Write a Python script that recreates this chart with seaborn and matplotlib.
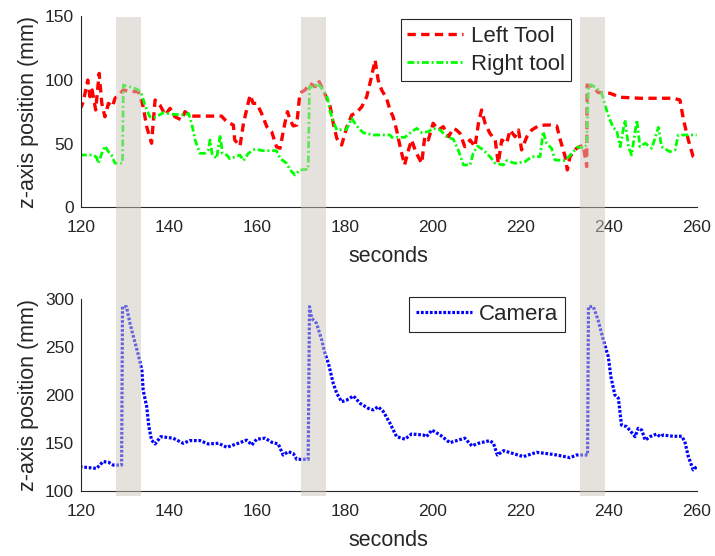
import matplotlib
matplotlib.use("Agg")
import matplotlib.pyplot as plt
import matplotlib.transforms as mtransforms
from matplotlib.patches import Rectangle
import seaborn as sns
import pandas as pd

# ---------------- data ----------------
left_t = [119.8,120.6,121.6,122.1,122.6,123.4,124.2,124.8,125.5,126.3,127.2,127.8,129.7,131.2,133.1,134.2,135.0,136.1,136.9,138.0,
          139.2,140.3,141.4,142.9,143.7,144.8,147.5,152.0,153.2,154.7,155.0,156.2,157.0,157.7,158.5,159.2,160.0,161.1,162.3,163.4,
          164.5,165.3,166.4,167.0,167.6,168.3,169.1,169.8,171.0,172.1,173.3,174.0,175.1,175.9,176.7,177.4,178.2,179.3,180.4,181.6,
          182.7,183.9,185.0,186.1,186.9,187.6,188.4,189.5,190.3,191.0,191.8,192.6,193.6,194.5,195.2,196.0,196.7,197.5,198.2,199.0,
          200.1,201.3,202.4,203.6,204.7,205.4,206.2,207.3,208.5,209.6,210.4,211.1,211.9,213.0,214.2,214.9,215.7,216.8,217.6,218.7,
          219.5,220.2,221.4,222.5,224.0,225.5,226.7,228.2,229.0,230.1,230.6,231.2,232.7,234.2,235.0,235.1,236.5,237.6,240.3,242.6,
          247.1,254.7,256.2,257.0,258.1,259.2,260.0]
left_z = [76.3,82.8,99.8,86.7,92.0,76.3,105.0,81.5,71.0,81.5,78.9,85.5,92.0,90.7,90.7,78.9,63.2,50.2,84.1,80.2,
          72.4,77.6,71.0,68.5,75.0,71.5,71.5,71.5,67.1,64.5,52.8,48.0,65.9,76.3,88.0,81.5,81.5,73.7,63.2,59.3,
          47.5,46.3,65.9,75.0,68.5,63.8,64.5,89.4,92.0,97.2,94.6,99.8,92.0,85.5,78.9,65.9,54.1,48.8,62.0,72.4,
          74.2,78.9,86.7,102.4,115.5,99.8,92.0,85.5,76.3,71.0,60.6,47.5,33.2,45.0,52.8,45.0,39.7,34.5,55.4,52.8,
          65.9,60.6,63.2,55.4,61.9,60.6,58.0,47.5,52.8,47.5,65.9,76.3,65.9,58.0,52.8,34.5,52.8,50.2,60.6,55.4,
          60.6,45.0,55.4,60.6,63.8,64.5,64.5,63.8,52.8,39.7,29.3,39.7,46.3,48.8,31.9,95.9,94.6,90.0,89.4,86.3,
          85.5,85.5,84.1,68.5,52.8,39.7,38.0]

right_t = [119.8,122.9,123.6,124.0,124.8,125.5,126.3,127.0,127.8,129.5,129.7,130.4,132.0,133.1,133.9,134.6,135.7,136.9,138.8,140.7,
           143.7,144.5,145.2,146.0,147.1,148.2,149.0,149.4,149.9,150.9,151.7,152.2,153.2,153.9,156.2,157.0,158.1,159.6,161.5,164.5,
           165.3,166.8,167.6,168.7,169.8,171.7,172.0,172.9,173.8,175.1,176.1,176.7,177.4,178.2,180.4,181.6,182.7,184.2,186.5,190.3,
           190.7,193.7,195.2,196.4,197.5,199.0,200.1,201.7,203.2,204.7,205.8,207.0,208.5,209.2,210.2,211.5,213.0,214.2,216.1,216.8,
           218.7,221.0,222.5,224.4,225.1,225.9,227.0,227.8,230.1,231.6,233.1,234.2,235.0,235.4,236.1,237.3,238.4,239.5,240.3,241.1,
           241.8,242.6,243.7,244.5,245.2,246.4,247.1,248.3,249.8,251.3,252.0,253.9,255.1,255.8,257.7,260.0]
right_z = [41.0,41.0,39.2,34.5,42.3,48.0,43.6,41.0,34.5,34.5,95.9,95.0,93.8,92.0,88.0,80.2,71.0,70.5,74.2,73.0,
           72.4,73.6,65.9,52.8,42.3,42.3,45.0,52.8,41.0,38.4,56.7,42.3,41.0,38.0,41.0,36.6,42.3,45.5,44.4,44.4,
           38.4,34.5,29.3,25.3,29.3,29.8,94.6,94.0,97.2,92.0,85.5,75.0,67.1,60.6,61.0,69.8,63.8,58.5,56.7,56.7,
           54.9,54.9,59.3,61.9,58.5,59.3,61.9,60.6,55.4,53.3,45.0,33.2,33.2,42.3,48.0,45.0,39.7,34.5,33.2,36.6,
           34.5,35.8,39.7,39.7,59.3,50.2,46.3,37.1,36.6,42.3,47.5,46.3,48.8,95.9,95.9,93.3,89.4,76.3,68.5,62.0,
           60.6,47.5,68.5,47.5,41.0,68.5,47.5,50.2,46.3,62.7,47.5,43.6,45.0,56.7,56.7,56.7]

cam_t = [119.8,123.6,125.1,126.3,127.4,129.3,129.5,130.4,131.2,132.2,133.1,133.9,134.2,135.0,135.5,136.1,136.9,138.2,141.0,143.3,
         144.8,147.1,149.0,151.3,153.2,155.8,157.7,158.9,160.0,161.9,163.4,164.9,166.0,167.2,168.3,169.1,171.7,172.0,172.5,173.6,
         174.8,175.5,176.3,177.4,178.2,179.3,180.4,182.0,183.5,185.4,186.5,187.6,188.8,190.3,191.8,193.7,195.2,197.9,198.6,199.8,
         201.7,203.9,205.8,207.3,208.9,210.4,213.0,213.8,214.7,216.1,218.3,220.6,223.6,225.9,228.2,231.2,232.7,235.2,235.4,236.5,
         237.6,238.8,239.9,240.5,241.4,242.2,242.9,244.1,246.0,246.7,247.5,248.3,249.4,250.9,251.7,252.4,254.7,256.6,257.3,258.1,
         259.2,260.0]
cam_z = [125.3,123.5,130.6,130.0,127.0,127.0,292.0,292.0,274.6,257.0,241.7,226.0,205.0,187.8,167.0,153.0,149.0,156.6,155.0,149.7,
         152.5,152.5,149.0,149.7,145.5,149.7,153.0,148.0,154.0,155.0,150.8,149.0,137.5,141.0,139.0,133.0,133.0,292.0,280.0,274.6,
         257.0,243.4,233.0,212.0,201.7,193.0,194.6,199.0,191.3,186.0,184.5,187.8,182.6,170.5,156.6,154.0,159.4,158.3,156.6,163.5,
         158.3,150.3,153.0,155.0,147.0,149.7,152.5,149.7,137.5,142.0,139.0,135.8,140.3,139.0,137.5,134.7,137.5,137.5,292.0,292.0,
         278.0,257.0,240.0,219.0,200.0,196.7,168.7,167.0,156.6,165.3,163.5,153.0,156.6,159.4,156.6,158.3,157.0,157.0,151.4,135.8,
         122.0,125.3]

band_starts = [128.1, 170.1, 233.5]
band_ends = [133.7, 175.7, 239.2]

top_xticks = [120, 140, 160, 180, 200, 220, 240, 260]
top_yticks = [0, 50, 100, 150]
bot_yticks = [100, 150, 200, 250, 300]

# ---------------- style ----------------
sns.set_style("white")
plt.rcParams["font.family"] = ["Liberation Sans", "DejaVu Sans"]
dark = (0.15, 0.15, 0.15)

W, H = 715, 556
fig = plt.figure(figsize=(W / 100, H / 100), dpi=100)

def fbox(x0, y0, x1, y1):
    return [x0 / W, 1 - y1 / H, (x1 - x0) / W, (y1 - y0) / H]

ax1 = fig.add_axes(fbox(80.7, 16, 696.7, 207.3))
ax2 = fig.add_axes(fbox(80.7, 299, 696.7, 491))

df_left = pd.DataFrame({"t": left_t, "z": left_z})
df_right = pd.DataFrame({"t": right_t, "z": right_z})
df_cam = pd.DataFrame({"t": cam_t, "z": cam_z})

sns.lineplot(data=df_left, x="t", y="z", ax=ax1, color="#ff0000", lw=2.4,
             estimator=None, sort=False, label="Left Tool")
ax1.lines[-1].set_dashes((2.5, 1.6))
sns.lineplot(data=df_right, x="t", y="z", ax=ax1, color="#00ff00", lw=2.0,
             estimator=None, sort=False, label="Right tool")
ax1.lines[-1].set_dashes((2.5, 1.0, 0.7, 1.0))
sns.lineplot(data=df_cam, x="t", y="z", ax=ax2, color="#0000ff", lw=2.3,
             estimator=None, sort=False, label="Camera")
ax2.lines[-1].set_dashes((0.85, 0.55))

for ax, yt, yl in [(ax1, top_yticks, (0, 150)), (ax2, bot_yticks, (100, 300))]:
    ax.set_xlim(120, 260)
    ax.set_ylim(*yl)
    ax.set_xticks(top_xticks)
    ax.set_yticks(yt)
    for side in ["top", "right"]:
        ax.spines[side].set_visible(False)
    for side in ["left", "bottom"]:
        ax.spines[side].set_color(dark)
        ax.spines[side].set_linewidth(0.8)
    ax.tick_params(axis="both", direction="in", length=4, width=0.8, color=dark,
                   labelcolor=dark, labelsize=12.5)
    ax.tick_params(axis="x", pad=9)
    ax.tick_params(axis="y", pad=5)
    ax.set_xlabel("seconds", fontsize=15.5, color=dark, labelpad=8)
    ax.set_ylabel("z-axis position (mm)", fontsize=15.5, color=dark, labelpad=4)

leg1 = ax1.legend(loc="upper left", bbox_to_anchor=(400.7 / W, 1 - 19.3 / H),
                  bbox_transform=fig.transFigure, fontsize=16, frameon=True,
                  fancybox=False, framealpha=1, edgecolor=dark, handlelength=2.5,
                  handletextpad=0.35, borderpad=0.3, labelspacing=0.3, borderaxespad=0)
leg1.get_frame().set_linewidth(0.8)
leg2 = ax2.legend(loc="upper left", bbox_to_anchor=(409.3 / W, 1 - 297.3 / H),
                  bbox_transform=fig.transFigure, fontsize=16, frameon=True,
                  fancybox=False, framealpha=1, edgecolor=dark, handlelength=2.5,
                  handletextpad=0.35, borderpad=0.3, borderaxespad=0)
leg2.get_frame().set_linewidth(0.8)

# shaded bands spanning both panels (drawn on top, semi-transparent)
trans = mtransforms.blended_transform_factory(ax1.transData, fig.transFigure)
y_lo = 1 - 496 / H
y_hi = 1 - 17 / H
for s, e in zip(band_starts, band_ends):
    r = Rectangle((s, y_lo), e - s, y_hi - y_lo, transform=trans,
                  facecolor=(0.80, 0.78, 0.75), alpha=0.5, edgecolor="none", zorder=10)
    fig.add_artist(r)

fig.savefig("out.png", dpi=100)
